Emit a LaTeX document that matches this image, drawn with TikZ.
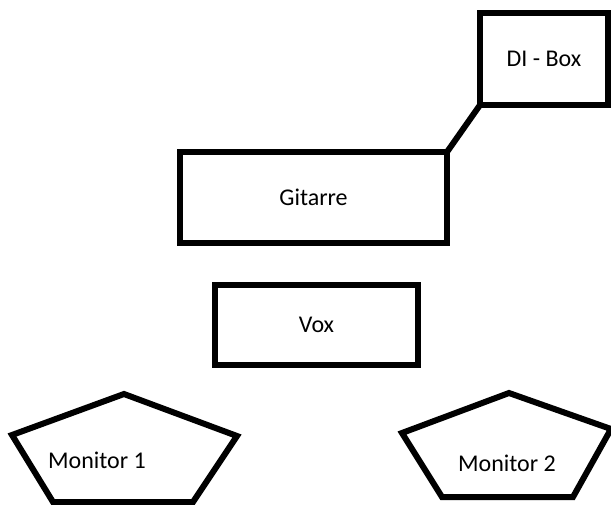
\documentclass[tikz,border=0pt]{standalone}
\usepackage{fontspec}
\setmainfont{Carlito}
\tikzset{
  box/.style={draw, line width=6pt, inner sep=0pt, outer sep=0pt, font=\fontsize{24}{28}\selectfont},
  label/.style={inner sep=0pt, font=\fontsize{24}{28}\selectfont},
}

\begin{document}
\begin{tikzpicture}[x=1pt, y=-1pt]
		%%%%% START %%%%%
		\useasboundingbox (0, 0) rectangle (611, 505);
		
		\node[box, minimum width=128pt, minimum height=92pt] (dibox) at (544, 59) {DI - Box};
		\node[box, minimum width=267pt, minimum height=91pt] (gitarre) at (313.5, 197.5) {Gitarre};
		\draw[line width=6pt] (gitarre.north east) -- (dibox.south west);
		
		\node[box, minimum width=203pt, minimum height=80pt] (vox) at (316.5, 325) {Vox};
		
		\draw[line width=6pt] (124, 394) -- (237, 436) -- (193, 502) -- (53, 502) -- (12, 435) -- cycle;
		\node[label] (monitor1) at (97, 460) {Monitor 1};
		
		\draw[line width=6pt] (509, 393) -- (611, 429) -- (573, 497) -- (442, 497) -- (402, 433) -- cycle;
		\node[label] (monitor2) at (507, 463) {Monitor 2};
		
		%%%%% END %%%%%
	\end{tikzpicture}
\end{document}
